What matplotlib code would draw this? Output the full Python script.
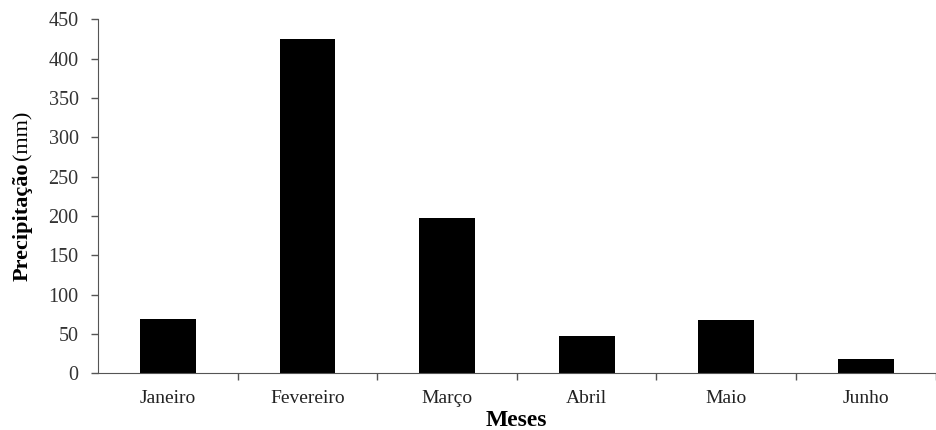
import matplotlib.pyplot as plt

meses = ["Janeiro", "Fevereiro", "Março", "Abril", "Maio", "Junho"]
precipitacao = [69, 425, 198, 47, 68, 18]
yticks = [0, 50, 100, 150, 200, 250, 300, 350, 400, 450]

plt.rcParams['font.family'] = ['Liberation Serif', 'DejaVu Serif']

fig = plt.figure(figsize=(9.36, 4.3), dpi=100)
ax = fig.add_axes([0.1047, 0.132, 0.895, 0.823])

x = range(len(meses))
ax.bar(x, precipitacao, width=0.4, color='black')

ax.set_xlim(-0.5, len(meses) - 0.5)
ax.set_ylim(0, 450)
ax.set_yticks(yticks)
ax.set_yticklabels([str(v) for v in yticks], fontsize=14.5, color='#333333')

# labels centred under bars, tick marks between categories
ax.set_xticks(list(x))
ax.set_xticklabels(meses, fontsize=14, color='#222222')
ax.tick_params(axis='x', which='major', length=0, pad=12)
ax.set_xticks([i + 0.5 for i in x], minor=True)
ax.tick_params(axis='x', which='minor', length=5, width=1, color='#555555', direction='out')
ax.tick_params(axis='y', length=5, width=1, color='#555555', direction='out', pad=9)

ax.spines['top'].set_visible(False)
ax.spines['right'].set_visible(False)
ax.spines['left'].set_color('#555555')
ax.spines['bottom'].set_color('#555555')

ax.set_xlabel("Meses", fontsize=17, fontweight='bold', labelpad=2)

# y label: bold word followed by the unit in regular weight
renderer = fig.canvas.get_renderer()
y0 = (430 - 281) / 430
t1 = fig.text(0.024, y0, "Precipitação", rotation=90, fontsize=16,
              fontweight='bold', ha='center', va='bottom')
h = t1.get_window_extent(renderer).height / fig.bbox.height
fig.text(0.024, y0 + h + 0.006, "(mm)", rotation=90, fontsize=16,
         ha='center', va='bottom')

plt.savefig('out.png', dpi=100)
